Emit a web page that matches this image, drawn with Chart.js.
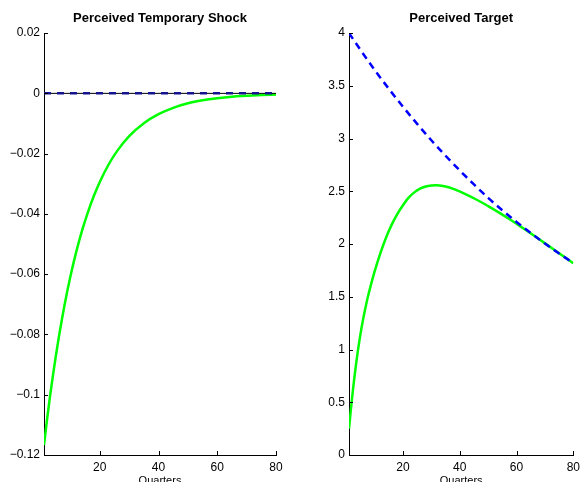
<!DOCTYPE html>
<html><head><meta charset="utf-8">
<script src="https://cdn.jsdelivr.net/npm/chart.js@4.4.0/dist/chart.umd.min.js"></script>
<style>
html,body{margin:0;padding:0;background:#fff;}
#wrap{position:relative;width:585px;height:482px;overflow:hidden;}
canvas{position:absolute;top:0;}
#a{left:0;}
#b{left:292px;}
</style></head><body>
<div id="wrap"><canvas id="a" width="292" height="482"></canvas><canvas id="b" width="293" height="482"></canvas></div>
<script>
// ---- data ----
const shockQuarters = [1,2,3,4,5,6,8,10,12,14,16,18,20,23,26,30,35,40,45,50,55,60,65,70,75,80];
const shockPerceived = [-0.1167,-0.1085,-0.1009,-0.0939,-0.0873,-0.0812,-0.0702,-0.0607,-0.0525,-0.0454,-0.0393,-0.0340,-0.0294,-0.0236,-0.0190,-0.0142,-0.0099,-0.0069,-0.0048,-0.0033,-0.0023,-0.0016,-0.0011,-0.0008,-0.0005,-0.0004];
const shockActualQuarters = [1,80];
const shockActual = [0,0];

const targetQuarters = [1,2,3,4,5,6,7,8,10,12,14,16,18,20,22,24,26,28,30,32,35,38,42,46,50,54,58,62,67,72,76,80];
const targetPerceived = [0.25,0.52,0.756,0.964,1.139,1.291,1.423,1.538,1.738,1.91,2.058,2.182,2.284,2.368,2.44,2.49,2.525,2.546,2.556,2.558,2.546,2.52,2.474,2.42,2.36,2.296,2.228,2.156,2.064,1.969,1.893,1.817];
const targetActualQuarters = [1,5,10,15,20,25,30,35,40,45,50,55,60,65,70,75,80];
const targetActual = [4.00,3.842,3.652,3.473,3.302,3.139,2.984,2.837,2.698,2.565,2.438,2.32,2.21,2.105,2.005,1.91,1.82];

const xTickValues = [20,40,60,80];
const shockYTicks = [0.02,0,-0.02,-0.04,-0.06,-0.08,-0.1,-0.12];
const targetYTicks = [0,0.5,1,1.5,2,2.5,3,3.5,4];

const pts = (xs, ys) => xs.map((x,i)=>({x:x,y:ys[i]}));
const FONT = '"Liberation Sans", Arial, Helvetica, sans-serif';

const inwardTicks = {
  id:'inwardTicks',
  afterDraw(chart){
    const {ctx, chartArea:a, scales} = chart;
    ctx.save(); ctx.strokeStyle='#000'; ctx.lineWidth=1;
    ctx.beginPath();
    scales.x.ticks.forEach(t=>{const p=Math.round(scales.x.getPixelForValue(t.value))+0.5; ctx.moveTo(p,a.bottom); ctx.lineTo(p,a.bottom-4);});
    scales.y.ticks.forEach(t=>{const p=Math.round(scales.y.getPixelForValue(t.value))+0.5; ctx.moveTo(a.left,p); ctx.lineTo(a.left+4,p);});
    ctx.stroke(); ctx.restore();
  }
};

function makeChart(id, title, datasets, yMin, yMax, yTicks, yFmt, yWidth, padRight){
  return new Chart(document.getElementById(id), {
    type:'line',
    data:{datasets:datasets},
    plugins:[inwardTicks],
    options:{
      responsive:false, devicePixelRatio:1, animation:false,
      layout:{autoPadding:false, padding:{left:0,right:padRight,top:0,bottom:0}},
      elements:{point:{radius:0}},
      plugins:{
        legend:{display:false}, tooltip:{enabled:false},
        title:{display:true, text:title, fullSize:false, color:'#000',
          font:{family:FONT, size:13, weight:'bold'}, padding:{top:11,bottom:6.5}}
      },
      scales:{
        x:{type:'linear', min:1, max:80,
          afterBuildTicks:s=>{s.ticks = xTickValues.map(v=>({value:v}));},
          afterFit:s=>{s.height=27;},
          grid:{display:true, drawOnChartArea:false, drawTicks:false},
          border:{display:true, color:'#000', width:1},
          ticks:{color:'#000', font:{family:FONT,size:12}, padding:5, maxRotation:0, autoSkip:false, callback:v=>String(v)},
          title:{display:true, text:'Quarters', color:'#000', font:{family:FONT,size:11}, padding:{top:0,bottom:-6}}
        },
        y:{type:'linear', min:yMin, max:yMax,
          afterBuildTicks:s=>{s.ticks = yTicks.map(v=>({value:v}));},
          afterFit:s=>{s.width=yWidth;},
          grid:{display:true, drawOnChartArea:false, drawTicks:false},
          border:{display:true, color:'#000', width:1},
          ticks:{color:'#000', font:{family:FONT,size:12}, padding:4, autoSkip:false, callback:yFmt}
        }
      }
    }
  });
}

makeChart('a','Perceived Temporary Shock',[
  {data:pts(shockActualQuarters,shockActual), borderColor:'#151590', borderWidth:2.5, borderDash:[7,6], fill:false},
  {data:pts(shockActualQuarters,shockActual), borderColor:'#000', borderWidth:1, fill:false},
  {data:pts(shockQuarters,shockPerceived), borderColor:'#00ff00', borderWidth:2.5, cubicInterpolationMode:'monotone', fill:false}
], -0.12, 0.02, shockYTicks, v=>{const r=Math.round(v*100)/100; return r===0?'0':(r<0?'\u2212':'')+Math.abs(r).toFixed(2).replace(/^0\.10$/,'0.1');}, 44, 16);

makeChart('b','Perceived Target',[
  {data:pts(targetActualQuarters,targetActual), borderColor:'#0000ff', borderWidth:2.5, borderDash:[7,5], cubicInterpolationMode:'monotone', fill:false},
  {data:pts(targetQuarters,targetPerceived), borderColor:'#00ff00', borderWidth:2.5, tension:0.4, fill:false}
], 0, 4, targetYTicks, v=>String(v), 57, 4);
</script>
</body></html>
